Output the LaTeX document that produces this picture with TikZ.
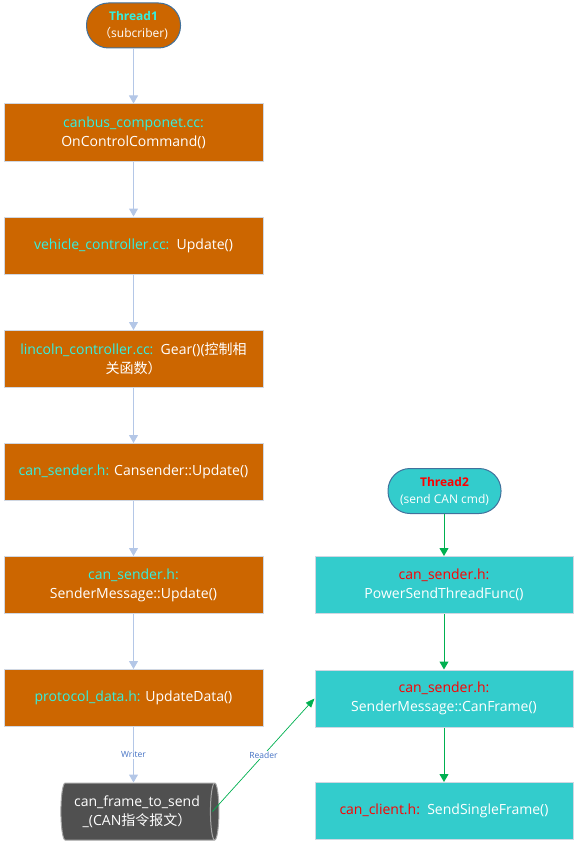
\documentclass[tikz,border=0pt]{standalone}
\usepackage{fontspec}
\setmainfont{Open Sans}
\newfontfamily\cjk{Noto Sans CJK SC}
\usetikzlibrary{arrows.meta,shapes.geometric}

\definecolor{boxorange}{HTML}{CC6600}
\definecolor{boxteal}{HTML}{33CCCC}
\definecolor{fnamecyan}{HTML}{33F0E0}
\definecolor{fnamered}{HTML}{FF0000}
\definecolor{flowgray}{HTML}{B4C7E7}
\definecolor{flowgreen}{HTML}{00B050}
\definecolor{threadline}{HTML}{41719C}
\definecolor{boxedge}{HTML}{D0D7E2}
\definecolor{storefill}{HTML}{505050}
\definecolor{labelblue}{HTML}{4472C4}

\tikzset{
  funcbox/.style={draw=boxedge, line width=1pt, text=white, align=center,
    minimum height=57pt, inner sep=2pt,
    font=\fontsize{14}{19}\selectfont},
  orangebox/.style={funcbox, fill=boxorange, minimum width=259pt},
  tealbox/.style={funcbox, fill=boxteal, minimum width=258pt},
  threadbox/.style={draw=threadline, line width=1pt, rounded corners=22pt,
    minimum width=94pt, minimum height=45pt, align=center, inner sep=1pt,
    text=white, font=\fontsize{12}{17}\selectfont},
  storebox/.style={shape=cylinder, shape aspect=0.25, draw=gray!70,
    line width=1pt, fill=storefill, text=white, align=center,
    minimum height=158pt, minimum width=57pt, inner sep=1pt,
    font=\fontsize{14}{19}\selectfont},
  grayflow/.style={draw=flowgray, line width=1pt,
    -{Triangle[width=9pt,length=8pt]}},
  greenflow/.style={draw=flowgreen, line width=1pt,
    -{Triangle[width=9pt,length=8pt]}},
  readflow/.style={draw=flowgreen, line width=0.7pt,
    -{Triangle[width=7pt,length=9pt]}},
  flowlabel/.style={fill=white, text=labelblue, inner sep=1pt,
    font=\fontsize{8.5}{10}\selectfont},
}

\begin{document}
\begin{tikzpicture}[x=1pt,y=-1pt]
\useasboundingbox (0,0) rectangle (579,848);

% subscriber thread chain
\node[threadbox, fill=boxorange] (t1) at (133.5,25.5)
  {{\bfseries\color{fnamecyan}Thread1}\\{\cjk （}subcriber)};
\node[orangebox] (b1) at (133.5,132.5)
  {{\color{fnamecyan}canbus\_componet.cc:}\\OnControlCommand()};
\node[orangebox] (b2) at (133.5,245.5)
  {{\color{fnamecyan}vehicle\_controller.cc:}\ \ Update()};
\node[orangebox] (b3) at (133.5,359)
  {{\color{fnamecyan}lincoln\_controller.cc:}\ \ Gear()({\cjk 控制相}\\{\cjk 关函数）}};
\node[orangebox] (b4) at (133.5,472)
  {{\color{fnamecyan}can\_sender.h:} Cansender::Update()};
\node[orangebox] (b5) at (133.5,585)
  {{\color{fnamecyan}can\_sender.h:}\\SenderMessage::Update()};
\node[orangebox] (b6) at (133.5,698)
  {{\color{fnamecyan}protocol\_data.h:} UpdateData()};
\node[storebox] (store) at (137,811.5)
  {can\_frame\_to\_send\\\_(CAN{\cjk 指令报文）}};

% sender thread chain
\node[threadbox, fill=boxteal, minimum width=113pt] (t2) at (444.5,491)
  {{\bfseries\color{fnamered}Thread2}\\(send CAN cmd)};
\node[tealbox] (r1) at (444,585)
  {{\color{fnamered}can\_sender.h:}\\PowerSendThreadFunc()};
\node[tealbox] (r2) at (444,698.5)
  {{\color{fnamered}can\_sender.h:}\\SenderMessage::CanFrame()};
\node[tealbox] (r3) at (444,811)
  {{\color{fnamered}can\_client.h:}\ \ SendSingleFrame()};

% connectors
\draw[grayflow] (t1) -- (b1);
\draw[grayflow] (b1) -- (b2);
\draw[grayflow] (b2) -- (b3);
\draw[grayflow] (b3) -- (b4);
\draw[grayflow] (b4) -- (b5);
\draw[grayflow] (b5) -- (b6);
\draw[grayflow] (b6.south) -- node[flowlabel] {Writer} (b6.south |- store.north);

\draw[greenflow] (t2.south -| r1.north) -- (r1.north);
\draw[greenflow] (r1) -- (r2);
\draw[greenflow] (r2) -- (r3);
\draw[readflow] ([xshift=-7pt]store.east) -- node[flowlabel] {Reader} (r2.west);
\end{tikzpicture}
\end{document}
